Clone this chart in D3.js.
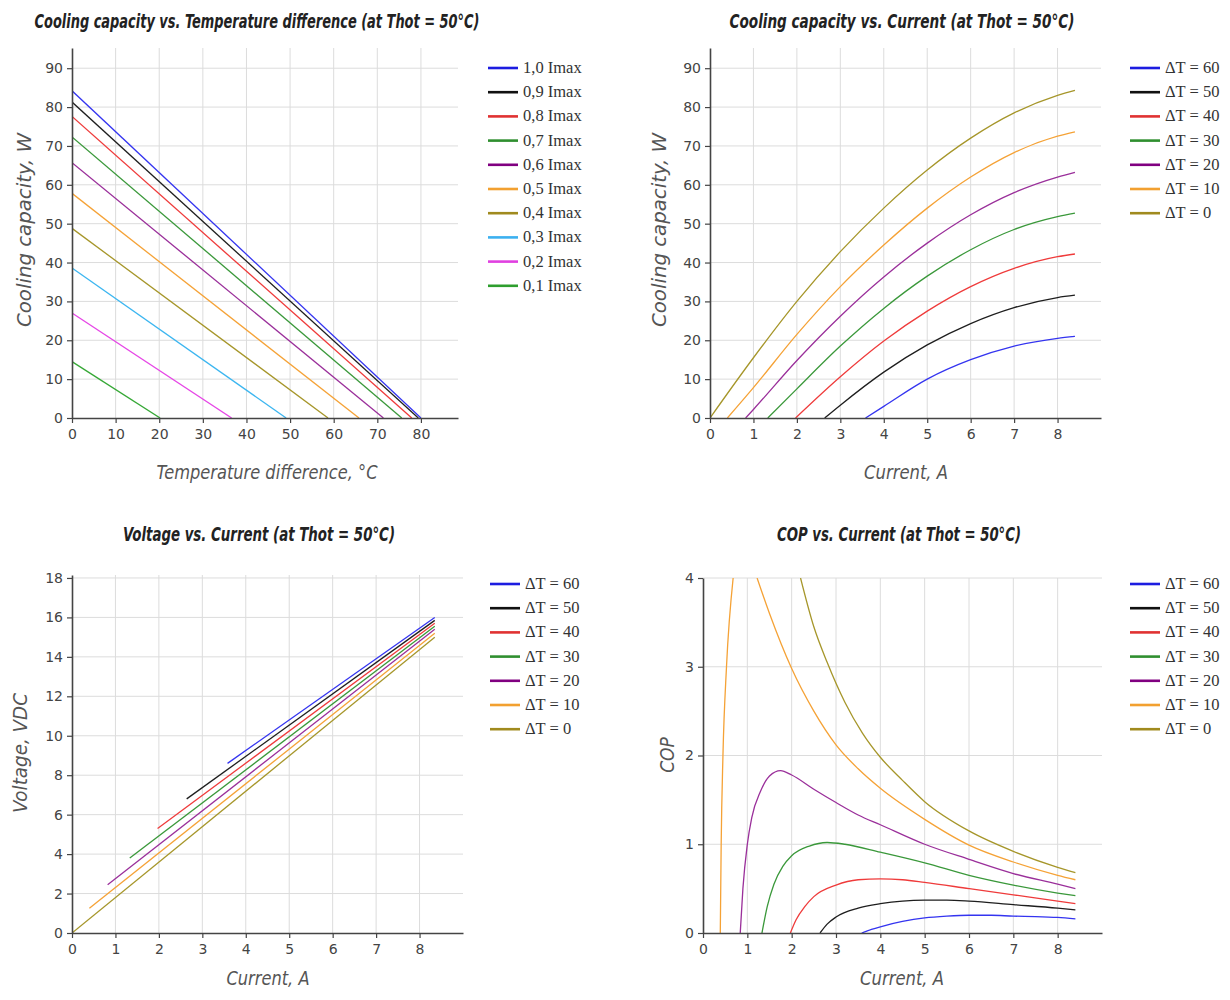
<!DOCTYPE html>
<html>
<head>
<meta charset="utf-8">
<title>TEC module characteristics</title>
<script src="https://d3js.org/d3.v7.min.js"></script>
<style>
  body { margin: 0; background: #fff; }
  .title { font-family: "DejaVu Sans Condensed", "DejaVu Sans", sans-serif; font-weight: bold; font-style: oblique; font-size: 20px; fill: #222; }
  .axis-label { font-family: "DejaVu Sans Condensed", "DejaVu Sans", sans-serif; font-style: oblique; font-size: 19px; fill: #555; }
  .axis text { font-family: "DejaVu Sans", sans-serif; font-size: 14px; fill: #444; }
  .legend-text { font-family: "Liberation Serif", "Times New Roman", serif; font-size: 16.5px; fill: #333; }
  .grid { stroke: #dcdcdc; stroke-width: 1; }
  .series { fill: none; stroke-width: 1.3; }
</style>
</head>
<body>
<svg id="chart" width="1230" height="1000"></svg>
<script>
// ---------- data ----------
// cooling capacity vs temperature difference: Q at dT=0 and dT where Q=0
const imaxLabels = ["1,0 Imax", "0,9 Imax", "0,8 Imax", "0,7 Imax", "0,6 Imax",
                    "0,5 Imax", "0,4 Imax", "0,3 Imax", "0,2 Imax", "0,1 Imax"];
const qAtZeroDt = [84.2, 81.3, 77.6, 72.3, 65.7, 57.8, 48.8, 38.6, 27.0, 14.5];
const dtAtZeroQ = [80.0, 79.4, 77.9, 75.6, 71.4, 65.8, 58.7, 49.1, 36.6, 20.2];

const dtLabels = ["\u0394T = 60", "\u0394T = 50", "\u0394T = 40", "\u0394T = 30",
                  "\u0394T = 20", "\u0394T = 10", "\u0394T = 0"];

// cooling capacity vs current, [I, Q]
const qcDt60 = [[3.58, 0], [4, 3], [5, 10], [6, 15], [7, 18.5], [8, 20.5], [8.4, 21]];
const qcDt50 = [[2.64, 0], [3, 3.3], [4, 11.8], [5, 18.8], [6, 24.3], [7, 28.4], [8, 31], [8.4, 31.6]];
const qcDt40 = [[1.97, 0], [3, 10.6], [4, 19.8], [5, 27.5], [6, 33.8], [7, 38.5], [8, 41.5], [8.4, 42.2]];
const qcDt30 = [[1.33, 0], [2, 7.5], [3, 18.5], [4, 28.2], [5, 36.5], [6, 43.3], [7, 48.5], [8, 51.8], [8.4, 52.7]];
const qcDt20 = [[0.82, 0], [1, 2.2], [2, 14.8], [3, 26.2], [4, 36.3], [5, 45], [6, 52.3], [7, 58], [8, 62], [8.4, 63.2]];
const qcDt10 = [[0.4, 0], [1, 7.8], [2, 21.5], [3, 33.8], [4, 44.5], [5, 54], [6, 62], [7, 68.3], [8, 72.5], [8.4, 73.6]];
const qcDt0  = [[0, 0], [1, 15.5], [2, 30], [3, 42.8], [4, 54], [5, 63.8], [6, 72], [7, 78.5], [8, 83], [8.4, 84.3]];

// voltage vs current, [I, V] at start and end
const vDt60 = [[3.58, 8.6], [8.35, 16.0]];
const vDt50 = [[2.64, 6.8], [8.35, 15.85]];
const vDt40 = [[1.97, 5.3], [8.35, 15.7]];
const vDt30 = [[1.33, 3.8], [8.35, 15.55]];
const vDt20 = [[0.82, 2.45], [8.35, 15.4]];
const vDt10 = [[0.4, 1.25], [8.35, 15.2]];
const vDt0  = [[0, 0], [8.35, 15.0]];

// COP vs current, [I, COP]; null marks where the curve leaves the plot
const copDt60 = [[3.58, 0], [3.8, 0.04], [4, 0.07], [4.5, 0.13], [5, 0.17], [5.5, 0.19], [6, 0.2], [6.5, 0.2], [7, 0.19], [7.5, 0.185], [8, 0.175], [8.4, 0.16]];
const copDt50 = [[2.64, 0], [2.8, 0.1], [3, 0.18], [3.5, 0.28], [4, 0.33], [4.5, 0.36], [5, 0.37], [5.5, 0.37], [6, 0.36], [7, 0.32], [8, 0.28], [8.4, 0.26]];
const copDt40 = [[1.97, 0], [2.1, 0.15], [2.3, 0.3], [2.5, 0.41], [3, 0.54], [3.5, 0.6], [4, 0.61], [4.5, 0.6], [5, 0.57], [6, 0.5], [7, 0.43], [8, 0.36], [8.4, 0.33]];
const copDt30 = [[1.33, 0], [1.45, 0.3], [1.6, 0.55], [1.8, 0.75], [2, 0.87], [2.4, 0.98], [2.8, 1.02], [3.2, 1.0], [4, 0.91], [5, 0.79], [6, 0.65], [7, 0.54], [8, 0.45], [8.4, 0.42]];
const copDt20 = [[0.84, 0], [0.9, 0.5], [1.0, 1.0], [1.1, 1.3], [1.3, 1.6], [1.5, 1.77], [1.75, 1.83], [2.0, 1.78], [2.5, 1.62], [3, 1.47], [3.5, 1.33], [4, 1.22], [5, 1.0], [6, 0.83], [7, 0.67], [8, 0.55], [8.4, 0.5]];
const copDt10 = [[0.39, 0], [0.41, 1], [0.45, 2], [0.53, 3], [0.68, 4], null,
                 [1.22, 4], [1.5, 3.6], [2, 2.98], [2.5, 2.5], [3, 2.12], [3.5, 1.85], [4, 1.63], [5, 1.28], [6, 0.99], [7, 0.8], [8, 0.65], [8.4, 0.6]];
const copDt0  = [[2.2, 4], [2.5, 3.45], [2.8, 3.05], [3.2, 2.6], [3.6, 2.25], [4, 1.98], [4.5, 1.72], [5, 1.48], [6, 1.15], [7, 0.92], [8, 0.74], [8.4, 0.68]];

const qTicks = [0, 10, 20, 30, 40, 50, 60, 70, 80, 90];
const dtTicks = [0, 10, 20, 30, 40, 50, 60, 70, 80];
const currentTicks = [0, 1, 2, 3, 4, 5, 6, 7, 8];
const voltTicks = [0, 2, 4, 6, 8, 10, 12, 14, 16, 18];
const copTicks = [0, 1, 2, 3, 4];

// ---------- styles ----------
const imaxColors = ["#3434f0", "#1e1e1e", "#ef3b3b", "#3a983a", "#9a2f9a",
                    "#f5a236", "#a6962a", "#3cb6f0", "#e646e6", "#36a836"];
const imaxLegendColors = ["#1c1ce0", "#111111", "#e03232", "#2f8f2f", "#800080",
                          "#f2a030", "#a08a1e", "#3cb0f0", "#e040e0", "#2e9e2e"];
const dtColors = ["#3434f0", "#1e1e1e", "#ef3b3b", "#3a983a", "#9a2f9a", "#f5a236", "#a6962a"];
const dtLegendColors = ["#1c1ce0", "#111111", "#e03232", "#2f8f2f", "#800080", "#f2a030", "#a08a1e"];

const svg = d3.select("#chart");

function panel(cfg) {
  const g = svg.append("g");
  const x = d3.scaleLinear().domain(cfg.xDomain).range([cfg.left, cfg.right]);
  const y = d3.scaleLinear().domain(cfg.yDomain).range([cfg.bottom, cfg.top]);

  g.selectAll(null).data(cfg.xTicks.filter(d => d > 0)).enter().append("line")
    .attr("class", "grid")
    .attr("x1", d => x(d)).attr("x2", d => x(d))
    .attr("y1", cfg.bottom).attr("y2", cfg.top);
  g.selectAll(null).data(cfg.yTicks.filter(d => d > 0)).enter().append("line")
    .attr("class", "grid")
    .attr("x1", cfg.left).attr("x2", cfg.right)
    .attr("y1", d => y(d)).attr("y2", d => y(d));

  const clipId = "clip" + cfg.id;
  svg.append("clipPath").attr("id", clipId).append("rect")
    .attr("x", cfg.left).attr("y", cfg.top)
    .attr("width", cfg.right - cfg.left).attr("height", cfg.bottom - cfg.top);
  const plot = g.append("g").attr("clip-path", `url(#${clipId})`);

  const axes = g.append("g");
  const styleAxis = sel => {
    sel.select(".domain").attr("stroke", "#444").attr("stroke-width", 1.6);
    sel.selectAll(".tick line").attr("stroke", "#444").attr("stroke-width", 1.2);
  };
  axes.append("g").attr("class", "axis")
    .attr("transform", `translate(0,${cfg.bottom})`)
    .call(d3.axisBottom(x).tickValues(cfg.xTicks).tickFormat(d3.format("d"))
      .tickSizeInner(5).tickSizeOuter(0).tickPadding(6))
    .call(styleAxis);
  axes.append("g").attr("class", "axis")
    .attr("transform", `translate(${cfg.left},0)`)
    .call(d3.axisLeft(y).tickValues(cfg.yTicks).tickFormat(d3.format("d"))
      .tickSizeInner(5).tickSizeOuter(0).tickPadding(4))
    .call(styleAxis);

  svg.append("text").attr("class", "title")
    .attr("x", cfg.titleX).attr("y", cfg.titleY)
    .attr("text-anchor", "middle")
    .attr("textLength", cfg.titleW).attr("lengthAdjust", "spacingAndGlyphs")
    .text(cfg.title);
  svg.append("text").attr("class", "axis-label")
    .attr("x", cfg.xLabelX).attr("y", cfg.xLabelY)
    .attr("text-anchor", "middle")
    .attr("textLength", cfg.xLabelW).attr("lengthAdjust", "spacingAndGlyphs")
    .text(cfg.xLabel);
  const yl = svg.append("text").attr("class", "axis-label")
    .attr("transform", `translate(${cfg.yLabelX},${cfg.yLabelY}) rotate(-90)`)
    .attr("text-anchor", "middle")
    .text(cfg.yLabel);
  if (cfg.yLabelW) yl.attr("textLength", cfg.yLabelW).attr("lengthAdjust", "spacingAndGlyphs");

  return { plot, x, y };
}

function legend(x0, y0, labels, colors) {
  const lg = svg.append("g").attr("transform", `translate(${x0},${y0})`);
  const rows = lg.selectAll("g").data(labels).enter().append("g")
    .attr("transform", (d, i) => `translate(0,${i * 24.2})`);
  rows.append("line").attr("x1", 0).attr("x2", 30).attr("y1", 0).attr("y2", 0)
    .attr("stroke", (d, i) => colors[i]).attr("stroke-width", 2.6);
  rows.append("text").attr("class", "legend-text")
    .attr("x", 35).attr("y", 5).text(d => d);
}

// ---------- panel 1: Q vs dT ----------
const p1 = panel({
  id: 1, left: 72, right: 458, top: 48, bottom: 418,
  xDomain: [0, 88.5], yDomain: [0, 95.2], xTicks: dtTicks, yTicks: qTicks,
  title: "Cooling capacity vs. Temperature difference (at Thot = 50°C)",
  titleX: 257, titleY: 28, titleW: 445,
  xLabel: "Temperature difference, °C", xLabelX: 267, xLabelY: 479, xLabelW: 221,
  yLabel: "Cooling capacity, W", yLabelX: 31, yLabelY: 230, yLabelW: 194
});
const dtLine = d3.line().x(d => p1.x(d[0])).y(d => p1.y(d[1]));
p1.plot.selectAll(null).data(imaxLabels).enter().append("path")
  .attr("class", "series")
  .attr("stroke", (d, i) => imaxColors[i])
  .attr("d", (d, i) => dtLine([[0, qAtZeroDt[i]], [dtAtZeroQ[i], 0]]));
legend(488, 68, imaxLabels, imaxLegendColors);

// ---------- panel 2: Q vs I ----------
const p2 = panel({
  id: 2, left: 710, right: 1101, top: 48, bottom: 418,
  xDomain: [0, 9], yDomain: [0, 95.2], xTicks: currentTicks, yTicks: qTicks,
  title: "Cooling capacity vs. Current (at Thot = 50°C)",
  titleX: 902, titleY: 28, titleW: 345,
  xLabel: "Current, A", xLabelX: 906, xLabelY: 479, xLabelW: 84,
  yLabel: "Cooling capacity, W", yLabelX: 666, yLabelY: 230, yLabelW: 194
});
const qcSeries = [qcDt60, qcDt50, qcDt40, qcDt30, qcDt20, qcDt10, qcDt0];
const qcLine = d3.line().curve(d3.curveMonotoneX).x(d => p2.x(d[0])).y(d => p2.y(d[1]));
p2.plot.selectAll(null).data(qcSeries).enter().append("path")
  .attr("class", "series")
  .attr("stroke", (d, i) => dtColors[i])
  .attr("d", qcLine);
legend(1130, 68, dtLabels, dtLegendColors);

// ---------- panel 3: V vs I ----------
const p3 = panel({
  id: 3, left: 72, right: 463, top: 575, bottom: 933,
  xDomain: [0, 9], yDomain: [0, 18.15], xTicks: currentTicks, yTicks: voltTicks,
  title: "Voltage vs. Current (at Thot = 50°C)",
  titleX: 259, titleY: 541, titleW: 272,
  xLabel: "Current, A", xLabelX: 268, xLabelY: 985, xLabelW: 83,
  yLabel: "Voltage,  VDC", yLabelX: 27, yLabelY: 753, yLabelW: 120
});
const vSeries = [vDt60, vDt50, vDt40, vDt30, vDt20, vDt10, vDt0];
const vLine = d3.line().x(d => p3.x(d[0])).y(d => p3.y(d[1]));
p3.plot.selectAll(null).data(vSeries).enter().append("path")
  .attr("class", "series")
  .attr("stroke", (d, i) => dtColors[i])
  .attr("d", vLine);
legend(490, 584, dtLabels, dtLegendColors);

// ---------- panel 4: COP vs I ----------
const p4 = panel({
  id: 4, left: 703, right: 1102, top: 578, bottom: 933,
  xDomain: [0, 9], yDomain: [0, 4], xTicks: currentTicks, yTicks: copTicks,
  title: "COP vs. Current (at Thot = 50°C)",
  titleX: 899, titleY: 541, titleW: 244,
  xLabel: "Current, A", xLabelX: 902, xLabelY: 985, xLabelW: 84,
  yLabel: "COP", yLabelX: 674, yLabelY: 755, yLabelW: 0
});
const copSeries = [copDt60, copDt50, copDt40, copDt30, copDt20, copDt10, copDt0];
const copLine = d3.line().curve(d3.curveMonotoneX)
  .defined(d => d !== null)
  .x(d => p4.x(d[0])).y(d => p4.y(d[1]));
p4.plot.selectAll(null).data(copSeries).enter().append("path")
  .attr("class", "series")
  .attr("stroke", (d, i) => dtColors[i])
  .attr("d", copLine);
legend(1130, 584, dtLabels, dtLegendColors);
</script>
</body>
</html>
